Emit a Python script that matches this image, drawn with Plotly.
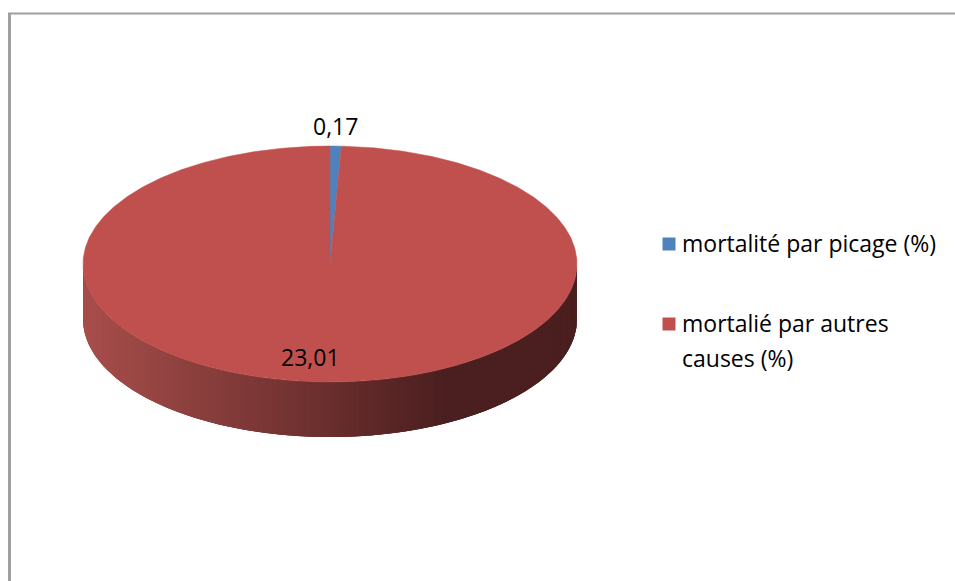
import numpy as np
import plotly.graph_objects as go

# Data
labels = ["mortalité par picage (%)", "mortalié par autres causes (%)"]
legend_lines = [["mortalité par picage (%)"], ["mortalié par autres", "causes (%)"]]
values = [0.17, 23.01]
value_text = ["0,17", "23,01"]
top_colors = ["#4f81bd", "#c0504d"]

# Geometry of the tilted pie (pixel units, y grows downward)
W, H = 955, 581
cx, cy = 330.0, 264.0
rx, ry = 247.0, 118.0
depth = 55.0
FONT = "Open Sans"
FS_LABEL = 23
FS_LEGEND = 23


def ell(theta_deg):
    t = np.radians(theta_deg)
    return cx + rx * np.sin(t), cy - ry * np.cos(t)


def mix(c1, c2, f):
    a = [int(c1[i:i + 2], 16) for i in (1, 3, 5)]
    b = [int(c2[i:i + 2], 16) for i in (1, 3, 5)]
    return "#%02x%02x%02x" % tuple(int(round(a[k] + (b[k] - a[k]) * f)) for k in range(3))


fig = go.Figure()

# Side wall: front half of the rim, a solid base plus overlapping shaded strips
wall_light, wall_dark = "#a84e4b", "#4b1f1f"
x_dark = 445.0
tt = np.linspace(270, 90, 200)
bx, by = ell(tt)
fig.add_trace(go.Scatter(x=list(bx) + list(bx[::-1]), y=list(by) + list((by + depth)[::-1]),
                         mode="lines", fill="toself", fillcolor="#6e2e2d",
                         line=dict(width=0), hoverinfo="skip", showlegend=False))
n = 160
ths = np.linspace(270, 90, n + 1)
for i in range(n):
    a0, a1 = ths[i], ths[min(i + 2, n)]
    seg = np.linspace(a0, a1, 5)
    xs, ys = ell(seg)
    xm = (xs[0] + ell(ths[i + 1])[0]) / 2
    f = min(max((xm - (cx - rx)) / (x_dark - (cx - rx)), 0), 1)
    col = mix(wall_light, wall_dark, f)
    px = list(xs) + list(xs[::-1])
    py = list(ys) + list((ys + depth)[::-1])
    fig.add_trace(go.Scatter(x=px, y=py, mode="lines", fill="toself",
                             fillcolor=col, line=dict(width=0),
                             hoverinfo="skip", showlegend=False))

# Top face: one polygon per slice, angles from the values (clockwise from 12 o'clock)
total = sum(values)
start = 0.0
mids = []
for v, col in zip(values, top_colors):
    span = 360.0 * v / total
    seg = np.linspace(start, start + span, max(3, int(span * 2)))
    xs, ys = ell(seg)
    fig.add_trace(go.Scatter(x=[cx] + list(xs) + [cx], y=[cy] + list(ys) + [cy],
                             mode="lines", fill="toself", fillcolor=col,
                             line=dict(width=0.5, color=col),
                             hoverinfo="skip", showlegend=False))
    mids.append(start + span / 2)
    start += span

# Value labels
lx, ly = ell(mids[0])
fig.add_annotation(x=lx, y=ly - 2, text=value_text[0], showarrow=False,
                   xanchor="center", yanchor="bottom",
                   font=dict(family=FONT, size=FS_LABEL, color="#000000"))
t = np.radians(mids[1])
fig.add_annotation(x=cx + 0.8 * rx * np.sin(t), y=cy - 0.8 * ry * np.cos(t) - 1,
                   text=value_text[1], showarrow=False, xshift=-15,
                   xanchor="center", yanchor="middle",
                   font=dict(family=FONT, size=FS_LABEL, color="#000000"))

# Legend
leg_x = 669
leg_y = [244, 324]
line_gap = 35
for lines, col, yy in zip(legend_lines, top_colors, leg_y):
    fig.add_trace(go.Scatter(x=[leg_x], y=[yy], mode="markers",
                             marker=dict(symbol="square", size=13, color=col,
                                         line=dict(width=0)),
                             hoverinfo="skip", showlegend=False))
    for k, ln in enumerate(lines):
        fig.add_annotation(x=leg_x + 11, y=yy - 1 + k * line_gap, text=ln,
                           showarrow=False, xanchor="left", yanchor="middle",
                           font=dict(family=FONT, size=FS_LEGEND, color="#000000"))

# Chart frame
fig.add_shape(type="line", x0=8, x1=W, y0=13.5, y1=13.5,
              line=dict(color="#a0a0a0", width=2))
fig.add_shape(type="line", x0=9.5, x1=9.5, y0=13, y1=H,
              line=dict(color="#a0a0a0", width=3))

fig.update_layout(
    width=W, height=H,
    margin=dict(l=0, r=0, t=0, b=0),
    paper_bgcolor="white", plot_bgcolor="white",
    xaxis=dict(range=[0, W], visible=False, fixedrange=True),
    yaxis=dict(range=[H, 0], visible=False, fixedrange=True),
    showlegend=False,
)

fig.write_html("out.html")
